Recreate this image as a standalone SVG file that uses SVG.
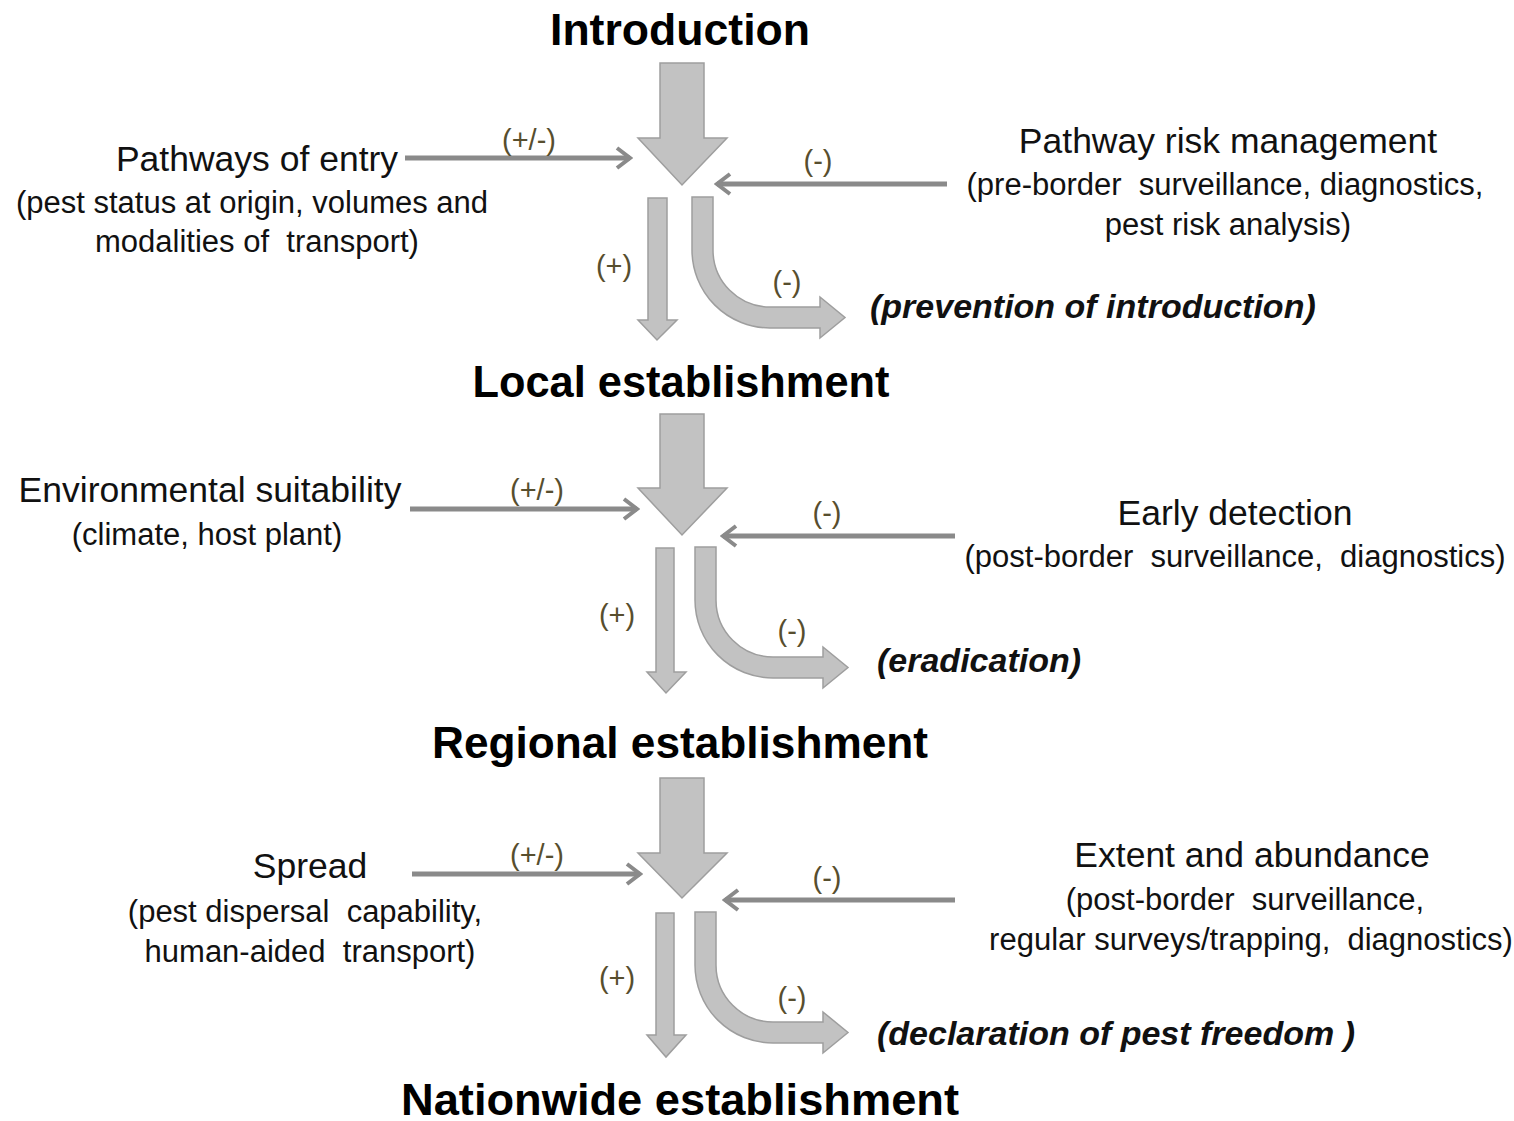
<svg xmlns="http://www.w3.org/2000/svg" width="1514" height="1121" viewBox="0 0 1514 1121">
<defs>
<style>
.title{font-family:"Liberation Sans",Arial,sans-serif;font-weight:bold;font-size:44.5px;fill:#000;text-anchor:middle}
.head{font-family:"Liberation Sans",Arial,sans-serif;font-size:35.5px;fill:#111;text-anchor:middle}
.sub{font-family:"Liberation Sans",Arial,sans-serif;font-size:31px;fill:#111;text-anchor:middle;white-space:pre}
.out{font-family:"Liberation Sans",Arial,sans-serif;font-weight:bold;font-style:italic;font-size:34px;fill:#111}
.lbl{font-family:"Liberation Sans",Arial,sans-serif;font-size:29px;fill:#574e2e;text-anchor:middle}
.block{fill:#c2c2c2;stroke:#9e9e9e;stroke-width:1.5}
.thin{stroke:#8a8a8a;stroke-width:5;fill:none;marker-end:url(#chev)}
</style>
<marker id="chev" markerUnits="userSpaceOnUse" markerWidth="18" markerHeight="24" refX="15" refY="12" orient="auto">
<path d="M2,2 L15,12 L2,22" fill="none" stroke="#8a8a8a" stroke-width="4"/>
</marker>
</defs>

<g id="connectors">
<polygon class="block" points="660,63 704,63 704,138 727,138 682,185 638,138 660,138"/>
<polygon class="block" points="648,198 667,198 667,320 677,320 657,340 638,320 648,320"/>
<path class="block" d="M692,197 L713,197 L713,250 A57,57 0 0 0 770,307 L820,307 L820,297 L845,317.5 L820,338 L820,328 L770,328 A78,78 0 0 1 692,250 Z"/>
<line class="thin" x1="405" y1="158" x2="630" y2="158"/>
<line class="thin" x1="947" y1="184" x2="717" y2="184"/>
<polygon class="block" points="660,414 704,414 704,488 727,488 682,535 638,488 660,488"/>
<polygon class="block" points="656,548 674,548 674,672 686,672 666,693 647,672 656,672"/>
<path class="block" d="M695,547 L716,547 L716,600 A57,57 0 0 0 773,657 L823,657 L823,647 L848,667.5 L823,688 L823,678 L773,678 A78,78 0 0 1 695,600 Z"/>
<line class="thin" x1="410" y1="509" x2="637" y2="509"/>
<line class="thin" x1="955" y1="536" x2="723" y2="536"/>
<polygon class="block" points="660,778 704,778 704,853 727,853 682,898 638,853 660,853"/>
<polygon class="block" points="656,913 674,913 674,1035 686,1035 666,1057 647,1035 656,1035"/>
<path class="block" d="M695,912 L716,912 L716,965 A57,57 0 0 0 773,1022 L823,1022 L823,1012 L848,1032.5 L823,1053 L823,1043 L773,1043 A78,78 0 0 1 695,965 Z"/>
<line class="thin" x1="412" y1="874" x2="640" y2="874"/>
<line class="thin" x1="955" y1="900" x2="725" y2="900"/>
<text class="lbl" x="529" y="150">(+/-)</text>
<text class="lbl" x="818" y="171">(-)</text>
<text class="lbl" x="614" y="276">(+)</text>
<text class="lbl" x="787" y="292">(-)</text>
<text class="lbl" x="537" y="500">(+/-)</text>
<text class="lbl" x="827" y="523">(-)</text>
<text class="lbl" x="617" y="625">(+)</text>
<text class="lbl" x="792" y="641">(-)</text>
<text class="lbl" x="537" y="865">(+/-)</text>
<text class="lbl" x="827" y="888">(-)</text>
<text class="lbl" x="617" y="988">(+)</text>
<text class="lbl" x="792" y="1008">(-)</text>
</g>

<g id="introduction"><text class="title" x="680" y="45" textLength="260" lengthAdjust="spacingAndGlyphs">Introduction</text></g>
<g id="local"><text class="title" x="681" y="397" textLength="417" lengthAdjust="spacingAndGlyphs">Local establishment</text></g>
<g id="regional"><text class="title" x="680" y="758" textLength="496" lengthAdjust="spacingAndGlyphs">Regional establishment</text></g>
<g id="nationwide"><text class="title" x="680" y="1115" textLength="558" lengthAdjust="spacingAndGlyphs">Nationwide establishment</text></g>

<g id="pathways">
<text class="head" x="257" y="171">Pathways of entry</text>
<text class="sub" x="252" y="213">(pest status at origin, volumes and</text>
<text class="sub" x="257" y="252" xml:space="preserve">modalities of  transport)</text>
</g>
<g id="pathway-risk">
<text class="head" x="1228" y="153">Pathway risk management</text>
<text class="sub" x="1225" y="195" xml:space="preserve">(pre-border  surveillance, diagnostics,</text>
<text class="sub" x="1228" y="235">pest risk analysis)</text>
</g>
<g id="prevention"><text class="out" x="870" y="318">(prevention of introduction)</text></g>

<g id="environment">
<text class="head" x="210" y="502">Environmental suitability</text>
<text class="sub" x="207" y="545">(climate, host plant)</text>
</g>
<g id="early-detection">
<text class="head" x="1235" y="525">Early detection</text>
<text class="sub" x="1235" y="567" xml:space="preserve">(post-border  surveillance,  diagnostics)</text>
</g>
<g id="eradication"><text class="out" x="877" y="672">(eradication)</text></g>

<g id="spread">
<text class="head" x="310" y="878">Spread</text>
<text class="sub" x="305" y="922" xml:space="preserve">(pest dispersal  capability,</text>
<text class="sub" x="310" y="962" xml:space="preserve">human-aided  transport)</text>
</g>
<g id="extent">
<text class="head" x="1252" y="867">Extent and abundance</text>
<text class="sub" x="1245" y="910" xml:space="preserve">(post-border  surveillance,</text>
<text class="sub" x="1251" y="950" xml:space="preserve">regular surveys/trapping,  diagnostics)</text>
</g>
<g id="freedom"><text class="out" x="877" y="1045">(declaration of pest freedom )</text></g>
</svg>
